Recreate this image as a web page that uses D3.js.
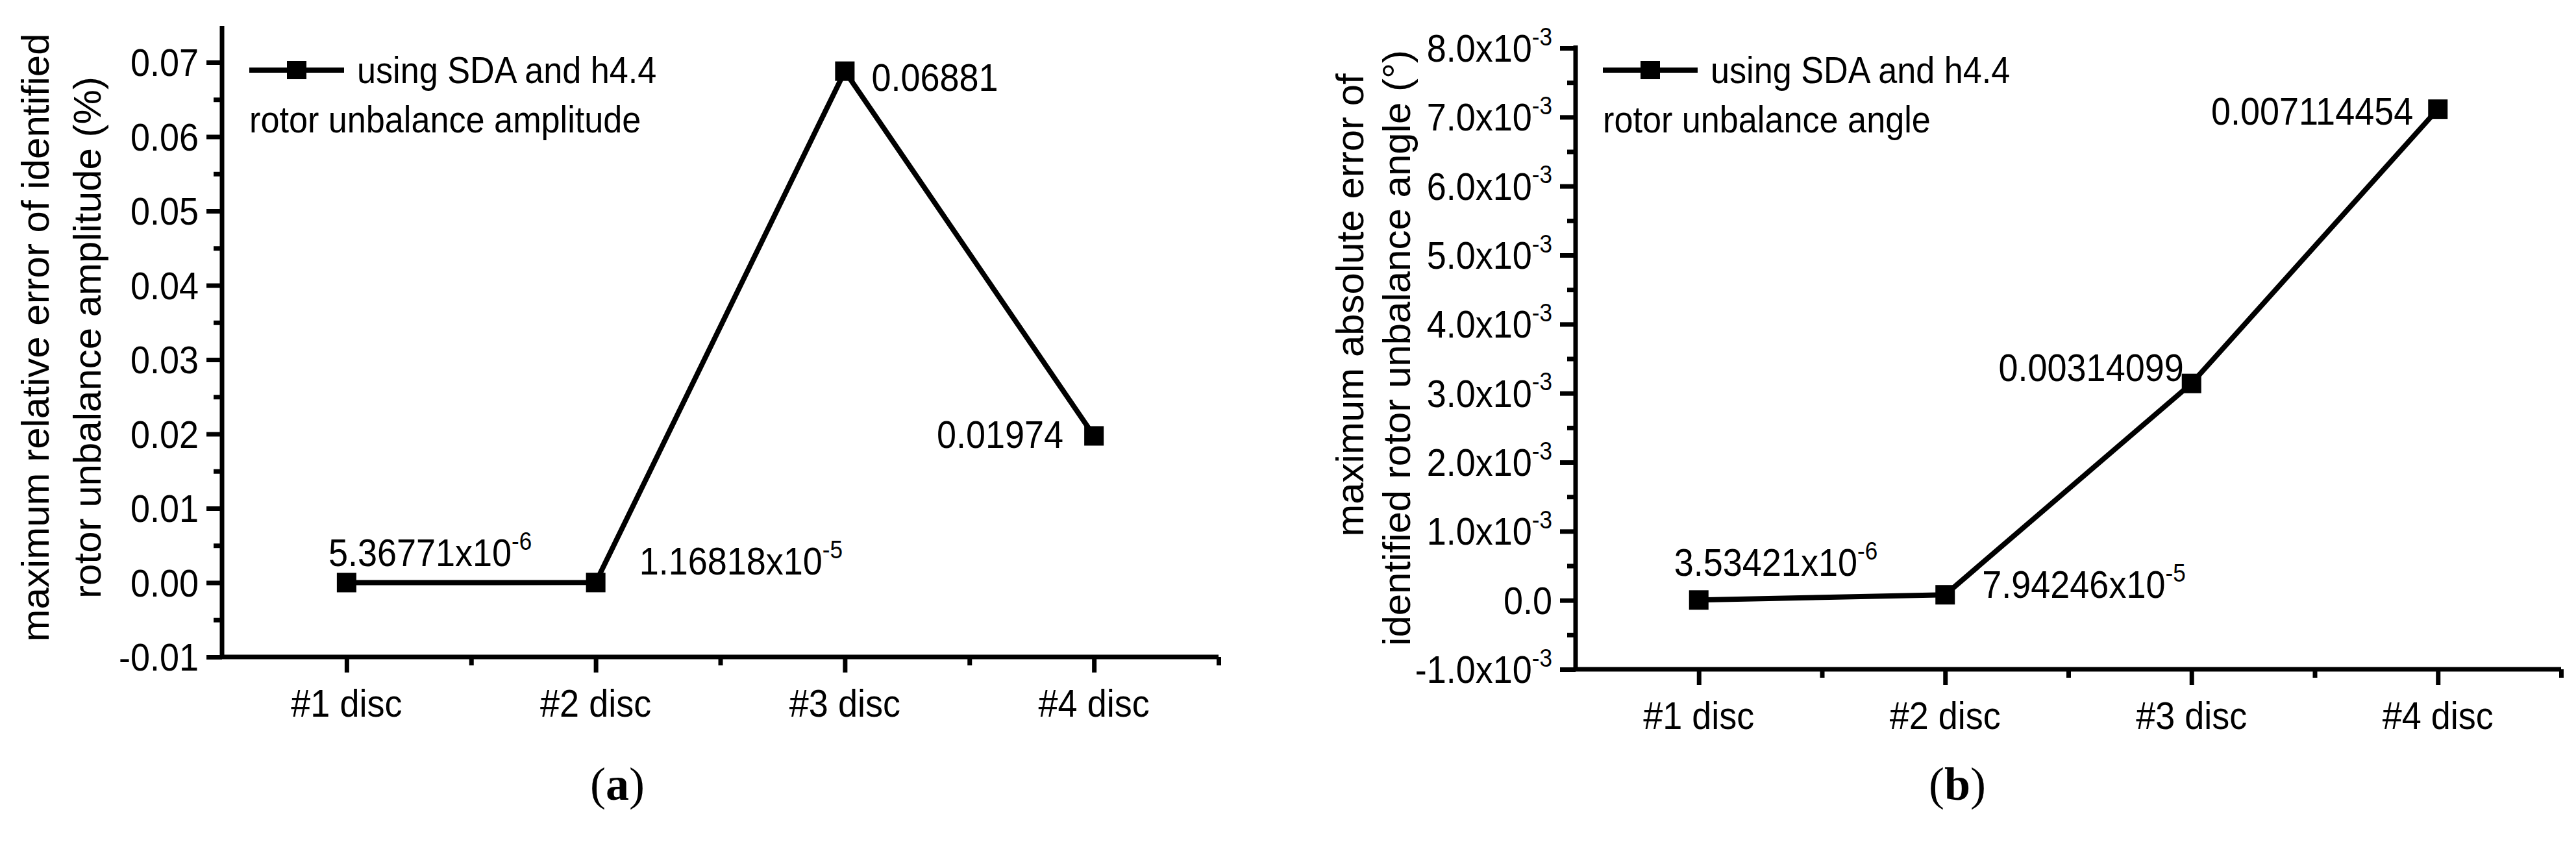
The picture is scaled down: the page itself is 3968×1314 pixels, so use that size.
<!DOCTYPE html>
<html><head><meta charset="utf-8">
<script src="https://cdn.jsdelivr.net/npm/d3@7"></script>
<style>body{margin:0;background:#fff}</style></head>
<body><svg id="c" width="3968" height="1314"></svg>
<script>
const categories = ["#1 disc","#2 disc","#3 disc","#4 disc"];
const valuesA = [5.36771e-6, 1.16818e-5, 0.06881, 0.01974];
const labelsA = [["5.36771x10","-6"],["1.16818x10","-5"],["0.06881",""],["0.01974",""]];
const valuesB = [3.53421e-6, 7.94246e-5, 0.00314099, 0.007114454];
const labelsB = [["3.53421x10","-6"],["7.94246x10","-5"],["0.00314099",""],["0.007114454",""]];
const ticksA = [-0.01,0,0.01,0.02,0.03,0.04,0.05,0.06,0.07];
const tickLabelsA = ["-0.01","0.00","0.01","0.02","0.03","0.04","0.05","0.06","0.07"];
const ticksB = [-1e-3,0,1e-3,2e-3,3e-3,4e-3,5e-3,6e-3,7e-3,8e-3];
const tickLabelsB = [["-1.0x10","-3"],["0.0",""],["1.0x10","-3"],["2.0x10","-3"],["3.0x10","-3"],["4.0x10","-3"],["5.0x10","-3"],["6.0x10","-3"],["7.0x10","-3"],["8.0x10","-3"]];

const svg = d3.select("#c");
const F = "'Liberation Sans','Arial',sans-serif";

function supText(sel, parts, fs){
  sel.text(null);
  sel.append("tspan").text(parts[0]);
  if(parts[1]) sel.append("tspan").attr("dy",-fs*0.42).attr("font-size",fs*0.65).text(parts[1]);
}
function narrow(g, x, y, anchor, fs, parts){
  const t = g.append("text").attr("transform",`translate(${x},${y}) scale(0.9,1)`).attr("text-anchor",anchor)
    .attr("font-family",F).attr("font-size",fs);
  supText(t, Array.isArray(parts)?parts:[parts,""], fs);
  return t;
}

function panel(o){
  const g = svg.append("g");
  const x = d3.scaleLinear().domain([0.5,4.5]).range([o.x0,o.x1]);
  const y = d3.scaleLinear().domain(o.ydom).range([o.y0,o.y1]);
  const mids = o.ticks.slice(0,-1).map((t,i)=>(t+o.ticks[i+1])/2);
  g.append("g").attr("transform",`translate(${o.x0},0)`).call(d3.axisLeft(y).tickValues(o.ticks).tickSize(24).tickFormat(""));
  g.append("g").attr("transform",`translate(${o.x0},0)`).call(d3.axisLeft(y).tickValues(mids).tickSize(13).tickFormat(""));
  g.append("g").attr("transform",`translate(0,${o.y0})`).call(d3.axisBottom(x).tickValues([1,2,3,4]).tickSize(24).tickFormat(""));
  g.append("g").attr("transform",`translate(0,${o.y0})`).call(d3.axisBottom(x).tickValues([1.5,2.5,3.5,4.5]).tickSize(13).tickFormat(""));
  g.selectAll(".domain").remove();
  g.selectAll(".tick line").attr("stroke","#000").attr("stroke-width",7);
  g.append("line").attr("x1",o.x0).attr("x2",o.x0).attr("y1",o.y0+3).attr("y2",o.ytop).attr("stroke","#000").attr("stroke-width",7);
  g.append("line").attr("x1",o.x0-3).attr("x2",o.x1).attr("y1",o.y0).attr("y2",o.y0).attr("stroke","#000").attr("stroke-width",7);
  o.ticks.forEach((t,i)=> narrow(g, o.x0-36, y(t)+21, "end", 60, o.tickLabels[i]));
  categories.forEach((c,i)=> narrow(g, x(i+1), o.y0+92, "middle", 60, c));
  g.append("path").datum(o.values).attr("fill","none").attr("stroke","#000").attr("stroke-width",8)
    .attr("d",d3.line().x((d,i)=>x(i+1)).y(d=>y(d)));
  g.selectAll("rect.m").data(o.values).join("rect").attr("x",(d,i)=>x(i+1)-15).attr("y",d=>y(d)-15)
    .attr("width",30).attr("height",30).attr("fill","#000");
  o.values.forEach((v,i)=>{
    const p = o.lab[i];
    narrow(g, x(i+1)+p[0], y(v)+p[1], p[2], 60, o.labels[i]);
  });
  const lx = o.x0+42, ly = 108;
  g.append("line").attr("x1",lx).attr("x2",lx+146).attr("y1",ly).attr("y2",ly).attr("stroke","#000").attr("stroke-width",8);
  g.append("rect").attr("x",lx+73-15).attr("y",ly-14).attr("width",30).attr("height",28);
  narrow(g, lx+166, 128, "start", 58, "using SDA and h4.4");
  narrow(g, lx, 204, "start", 58, o.legend2);
  o.title.forEach((s,i)=>{
    g.append("text").attr("transform",`translate(${o.titleX[i]},${o.titleY[i]}) rotate(-90)`).attr("text-anchor","middle")
      .attr("font-family",F).attr("font-size",60).text(s);
  });
  const cap = g.append("text").attr("x",o.capX).attr("y",1232).attr("text-anchor","middle")
    .attr("font-family","'Liberation Serif','DejaVu Serif',serif").attr("font-size",72);
  cap.append("tspan").text("(");
  cap.append("tspan").attr("font-weight","bold").text(o.cap);
  cap.append("tspan").text(")");
}

panel({x0:342,x1:1877,y0:1012,y1:96,ytop:40,ydom:[-0.01,0.07],ticks:ticksA,tickLabels:tickLabelsA,
  values:valuesA,labels:labelsA,
  lab:[[-28,-25,"start"],[67,-12,"start"],[41,30,"start"],[-47,19,"end"]],
  legend2:"rotor unbalance amplitude",title:["maximum relative error of identified","rotor unbalance amplitude (%)"],
  titleX:[75,155],titleY:[520,520],capX:951,cap:"a"});

panel({x0:2427,x1:3945,y0:1031,y1:74,ytop:70,ydom:[-1e-3,8e-3],ticks:ticksB,tickLabels:tickLabelsB,
  values:valuesB,labels:labelsB,
  lab:[[-38,-37,"start"],[57,5,"start"],[-12,-4,"end"],[-38,24,"end"]],
  legend2:"rotor unbalance angle",title:["maximum absolute error of","identified rotor unbalance angle (°)"],
  titleX:[2100,2172],titleY:[470,536],capX:3015,cap:"b"});
</script></body></html>
